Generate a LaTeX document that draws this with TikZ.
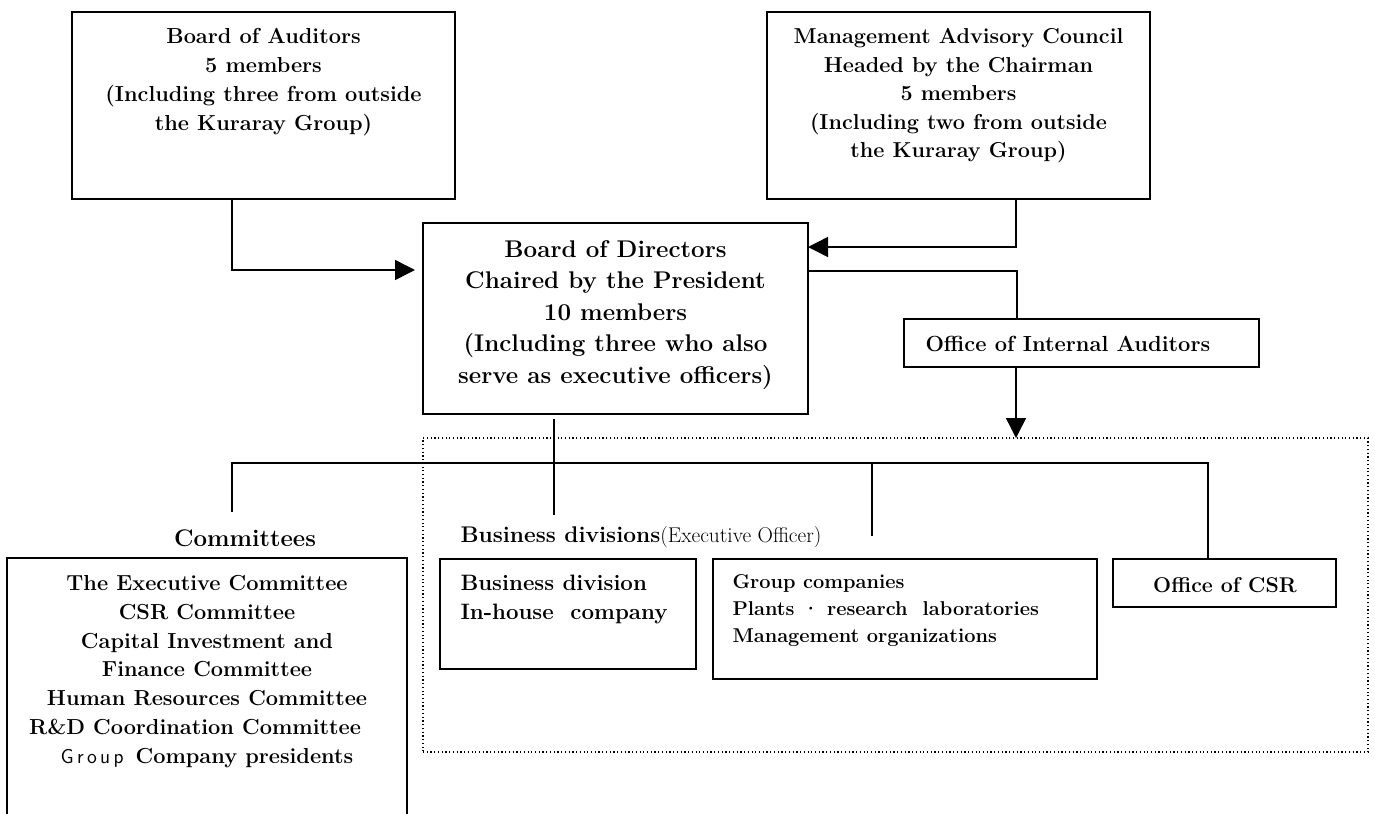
\documentclass[tikz,border=0pt]{standalone}
\usetikzlibrary{arrows.meta,calc}

\tikzset{every picture/.style={line width=0.75pt}}
\tikzset{
  orgbox/.style={draw, line width=1.3pt, inner sep=0pt, outer sep=0pt},
  link/.style={line width=1.1pt},
  tip/.style={-{Triangle[length=15pt,width=15pt]}},
  boxtext/.style={inner sep=0pt, align=center, font=\bfseries\fontsize{16.3}{21.7}\selectfont},
  lefttext/.style={inner sep=0pt, align=left, anchor=west},
}

\begin{document}
\begin{tikzpicture}[x=0.75pt,y=0.75pt,yscale=-1,xscale=1]
\useasboundingbox (0,0) rectangle (1375,814);

%Shape: Rectangle
\node [orgbox, minimum width=287.25pt, minimum height=140.25pt] (aud) at (263.5,105.5) {};
%Shape: Rectangle
\node [orgbox, minimum width=287.25pt, minimum height=140.25pt] (mac) at (958.5,105.5) {};
%Shape: Rectangle
\node [orgbox, minimum width=288.75pt, minimum height=143.25pt] (bod) at (615.5,318.5) {};
%Shape: Rectangle
\node [orgbox, minimum width=266.25pt, minimum height=36pt] (oia) at (1081.5,343) {};
%Shape: Rectangle (dotted frame)
\node [draw, line width=0.8pt, dash pattern=on 0.9pt off 1.9pt, inner sep=0pt, outer sep=0pt, minimum width=708.75pt, minimum height=235.5pt] (dot) at (895.5,595) {};
%Shape: Rectangle
\node [orgbox, minimum width=300pt, minimum height=204pt] (com) at (207,694) {};
%Shape: Rectangle
\node [orgbox, minimum width=192pt, minimum height=82.5pt] (bdv) at (568,614) {};
%Shape: Rectangle
\node [orgbox, minimum width=288pt, minimum height=90pt] (grp) at (905,619) {};
%Shape: Rectangle
\node [orgbox, minimum width=167.25pt, minimum height=36pt] (csr) at (1224.5,583) {};

% Text Node
\node [boxtext] (audtxt) at (263.5,82.5) {Board of Auditors\\5 members\\(Including three from outside\\the Kuraray Group)};
% Text Node
\node [boxtext, font=\bfseries\fontsize{16.2}{21.4}\selectfont] (mactxt) at (958.5,96) {Management Advisory Council\\Headed by the Chairman\\5 members\\(Including two from outside\\the Kuraray Group)};
% Text Node
\node [boxtext, font=\bfseries\fontsize{18.1}{23.6}\selectfont] (bodtxt) at (615.5,315) {Board of Directors\\Chaired by the President\\10 members\\(Including three who also\\serve as executive officers)};
% Text Node
\node [lefttext, font=\bfseries\fontsize{16.4}{20}\selectfont] (oiatxt) at (925,344) {Office of Internal Auditors};
% Text Node
\node [boxtext, font=\bfseries\fontsize{18}{22}\selectfont] (comlbl) at (245,538) {Committees};
% Text Node
\node [boxtext, font=\bfseries\fontsize{16.3}{21.6}\selectfont] (comtxt) at (207,671.5) {The Executive Committee\\CSR Committee\\Capital Investment and\\Finance Committee\\Human Resources Committee\\R\&D Coordination Committee\kern18pt\\{\mdseries\sffamily\fontsize{15}{21.6}\selectfont G\kern2.5pt r\kern2.5pt o\kern2.5pt u\kern2.5pt p}\kern9pt Company presidents};
% Text Node
\node [lefttext] (busl) at (460,537) {{\bfseries\fontsize{17}{20}\selectfont Business divisions}{\fontsize{16}{20}\selectfont(Executive Officer)}};
% Text Node
\node [lefttext, font=\bfseries\fontsize{16.7}{21.75}\selectfont] (bdvtxt) at (460,599.5) {Business division\\In-house\ \ company};
% Text Node
\node [lefttext, font=\bfseries\fontsize{15}{20}\selectfont] (grptxt) at (732,610.5) {Group companies\\Plants\ ·\ research\ \ laboratories\\Management organizations};
% Text Node
\node [boxtext, font=\bfseries\fontsize{16}{20}\selectfont] (csrtxt) at (1225,585) {Office of CSR};

%Straight Lines
\draw [link, tip, shorten >=6pt] ($(aud.south west)+(160,0)$) |- ($(bod.north west)+(0,47)$);
%Straight Lines
\draw [link, tip] ($(mac.south west)+(249,0)$) |- ($(bod.north east)+(0,24)$);
%Straight Lines
\draw [link] ($(bod.north east)+(0,48)$) -| ($(oia.north west)+(113,0)$);
%Straight Lines
\draw [link, tip] ($(oia.south west)+(112,0)$) coordinate (oiaout) -- (oiaout |- dot.north);

\coordinate (bdtap) at (554,515);
\coordinate (bus) at (232,463);
\coordinate (comtap) at (232,512);
\coordinate (grptap) at (872,536);
%Straight Lines
\draw [link] ($(bod.south)+(-61.5,5)$) -- (bdtap);
%Straight Lines
\draw [link] (comtap) -- (bus) -| ($(csr.north)+(-16.5,0)$);
%Straight Lines
\draw [link] (grptap) -- (grptap |- bus);

\end{tikzpicture}
\end{document}
